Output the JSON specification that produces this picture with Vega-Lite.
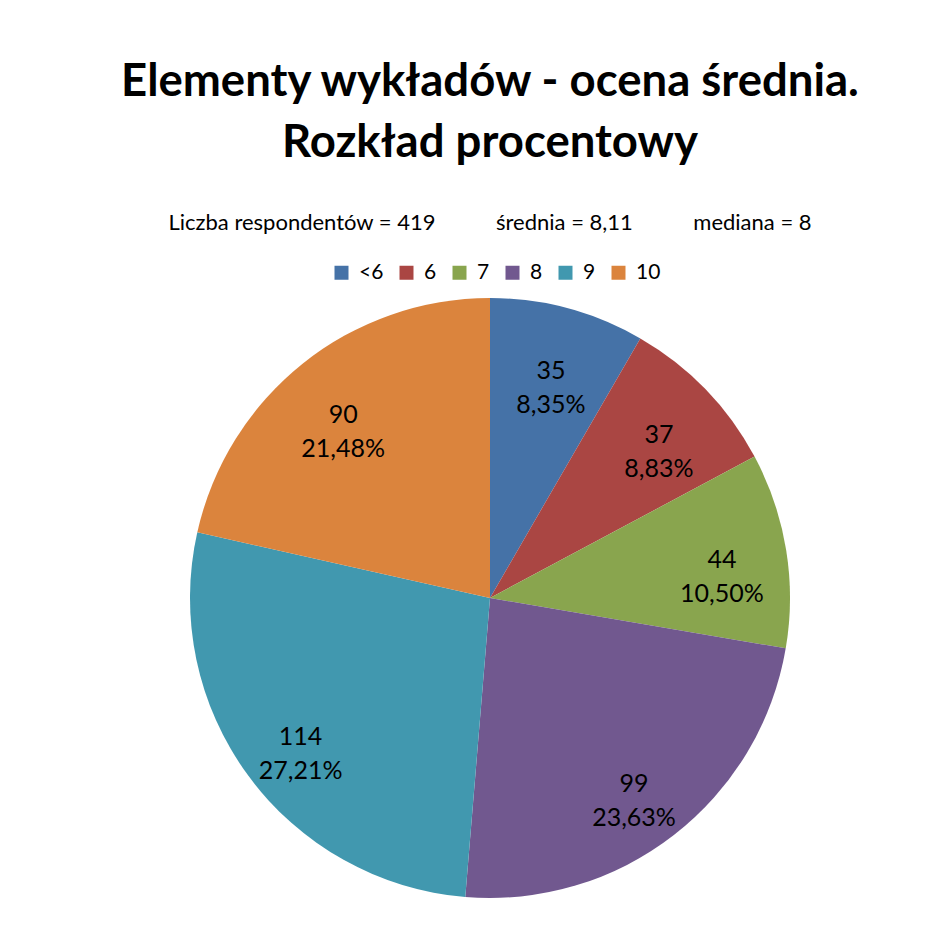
{
  "$schema": "https://vega.github.io/schema/vega-lite/v6.json",
  "width": 600,
  "height": 600,
  "autosize": {"type": "none"},
  "padding": {"left": 190, "top": 298, "right": 154, "bottom": 52},
  "background": "white",
  "config": {
    "view": {"stroke": null},
    "font": "Lato"
  },
  "title": {
    "text": ["Elementy wykładów - ocena średnia.", "Rozkład procentowy"],
    "subtitle": "Liczba respondentów = 419\u2003\u2003\u2003\u2002średnia = 8,11\u2003\u2003\u2003\u2002mediana = 8",
    "anchor": "middle",
    "frame": "group",
    "orient": "top",
    "offset": 28,
    "font": "Lato",
    "fontSize": 45.5,
    "fontWeight": "bold",
    "color": "black",
    "lineHeight": 61,
    "subtitleFont": "Lato",
    "subtitleFontSize": 22,
    "subtitleColor": "black",
    "subtitlePadding": 47
  },
  "data": {
    "values": [
      {"category": "<6", "idx": 1, "count": 35, "label": "35\n8,35%"},
      {"category": "6", "idx": 2, "count": 37, "label": "37\n8,83%"},
      {"category": "7", "idx": 3, "count": 44, "label": "44\n10,50%"},
      {"category": "8", "idx": 4, "count": 99, "label": "99\n23,63%"},
      {"category": "9", "idx": 5, "count": 114, "label": "114\n27,21%"},
      {"category": "10", "idx": 6, "count": 90, "label": "90\n21,48%"}
    ]
  },
  "encoding": {
    "theta": {"field": "count", "type": "quantitative", "stack": true},
    "order": {"field": "idx", "type": "quantitative"},
    "color": {
      "field": "category",
      "type": "nominal",
      "sort": ["<6", "6", "7", "8", "9", "10"],
      "scale": {
        "domain": ["<6", "6", "7", "8", "9", "10"],
        "range": ["#4572A7", "#AA4643", "#89A54E", "#71588F", "#4198AF", "#DB843D"]
      },
      "legend": {
        "title": null,
        "orient": "none",
        "direction": "horizontal",
        "legendX": 141,
        "legendY": -36,
        "symbolType": "square",
        "symbolSize": 196,
        "symbolStrokeWidth": 0,
        "symbolOpacity": 1,
        "labelFont": "Lato",
        "labelFontSize": 21,
        "labelColor": "black",
        "labelOffset": 7,
        "columnPadding": 12
      }
    }
  },
  "layer": [
    {"mark": {"type": "arc", "outerRadius": 300}},
    {
      "mark": {"type": "text", "radius": 235, "fontSize": 25, "lineHeight": 34, "lineBreak": "\n", "font": "Lato", "color": "black"},
      "encoding": {
        "text": {"field": "label", "type": "nominal"},
        "color": {"value": "black"}
      }
    }
  ]
}
